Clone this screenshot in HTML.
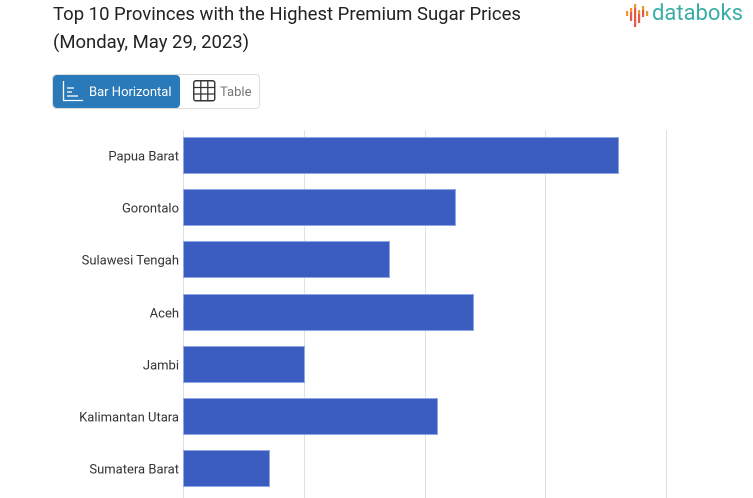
<!DOCTYPE html>
<html><head><meta charset="utf-8"><style>
html,body{margin:0;padding:0;background:#fff;width:753px;height:498px;overflow:hidden;position:relative;font-family:"Roboto","Liberation Sans",sans-serif;}
.t{position:absolute;left:53px;color:#222;font-size:18.5px;white-space:nowrap;}
.lbl{position:absolute;right:574px;font-size:13px;color:#333;white-space:nowrap;transform:translateY(-50%);}
.grid{position:absolute;top:130px;bottom:0;width:1px;background:#e0e0e0;}
.bar{position:absolute;left:183px;height:35px;background:#3a5dbf;border:1px solid #8fa6e8;box-sizing:content-box;}
</style></head><body>
<div class="t" style="top:3px">Top 10 Provinces with the Highest Premium Sugar Prices</div>
<div class="t" style="top:31px">(Monday, May 29, 2023)</div>

<svg style="position:absolute;left:622px;top:2px" width="32" height="28">
<rect x="4" y="9" width="2.2" height="5" fill="#f0932b"/>
<rect x="8" y="6" width="2.2" height="4" fill="#f0932b"/><rect x="8" y="10" width="2.2" height="9" fill="#e8574a"/>
<rect x="12" y="2" width="2.2" height="4" fill="#f0932b"/><rect x="12" y="6" width="2.2" height="19" fill="#e8574a"/>
<rect x="16" y="8" width="2.2" height="4" fill="#f0932b"/><rect x="16" y="12" width="2.2" height="9" fill="#e8574a"/>
<rect x="20" y="4" width="2.2" height="4" fill="#f0932b"/><rect x="20" y="8" width="2.2" height="7" fill="#e8574a"/>
<rect x="24" y="9" width="2.2" height="5" fill="#f0932b"/>
</svg>
<div style="position:absolute;left:652px;top:1px;font-size:22px;color:#3aaea6;">databoks</div>

<div style="position:absolute;left:52px;top:74px;width:208px;height:35px;border:1px solid #ddd;border-radius:4px;box-sizing:border-box;"></div>
<div style="position:absolute;left:53px;top:75px;width:127px;height:33px;background:#2a7ab9;border-radius:4px;"></div>
<svg style="position:absolute;left:62px;top:81px" width="22" height="22">
<path d="M1.5 0 V19.5 H21" stroke="#fff" stroke-width="1.3" fill="none"/>
<line x1="5" y1="7" x2="12" y2="7" stroke="#fff" stroke-width="1.3"/>
<line x1="5" y1="11" x2="10" y2="11" stroke="#fff" stroke-width="1.3"/>
<line x1="5" y1="15" x2="16" y2="15" stroke="#fff" stroke-width="1.3"/>
</svg>
<div style="position:absolute;left:89px;top:85px;font-size:13px;color:#fff;">Bar Horizontal</div>
<svg style="position:absolute;left:193px;top:80px" width="23" height="22">
<rect x="0.75" y="0.75" width="21" height="20" rx="2" stroke="#333" stroke-width="1.4" fill="none"/>
<line x1="7.8" y1="1" x2="7.8" y2="21" stroke="#333" stroke-width="1.3"/>
<line x1="14.8" y1="1" x2="14.8" y2="21" stroke="#333" stroke-width="1.3"/>
<line x1="1" y1="7.5" x2="22" y2="7.5" stroke="#333" stroke-width="1.3"/>
<line x1="1" y1="14" x2="22" y2="14" stroke="#333" stroke-width="1.3"/>
</svg>
<div style="position:absolute;left:220px;top:85px;font-size:13px;color:#777;">Table</div>

<div class="grid" style="left:183px"></div>
<div class="grid" style="left:304px"></div>
<div class="grid" style="left:425px"></div>
<div class="grid" style="left:545px"></div>
<div class="grid" style="left:666px"></div>

<div class="bar" style="top:137px;width:434px"></div>
<div class="bar" style="top:189px;width:271px"></div>
<div class="bar" style="top:241px;width:205px"></div>
<div class="bar" style="top:294px;width:289px"></div>
<div class="bar" style="top:346px;width:120px"></div>
<div class="bar" style="top:398px;width:253px"></div>
<div class="bar" style="top:450px;width:85px"></div>

<div class="lbl" style="top:157px">Papua Barat</div>
<div class="lbl" style="top:209px">Gorontalo</div>
<div class="lbl" style="top:261px">Sulawesi Tengah</div>
<div class="lbl" style="top:314px">Aceh</div>
<div class="lbl" style="top:366px">Jambi</div>
<div class="lbl" style="top:418px">Kalimantan Utara</div>
<div class="lbl" style="top:470px">Sumatera Barat</div>
</body></html>
